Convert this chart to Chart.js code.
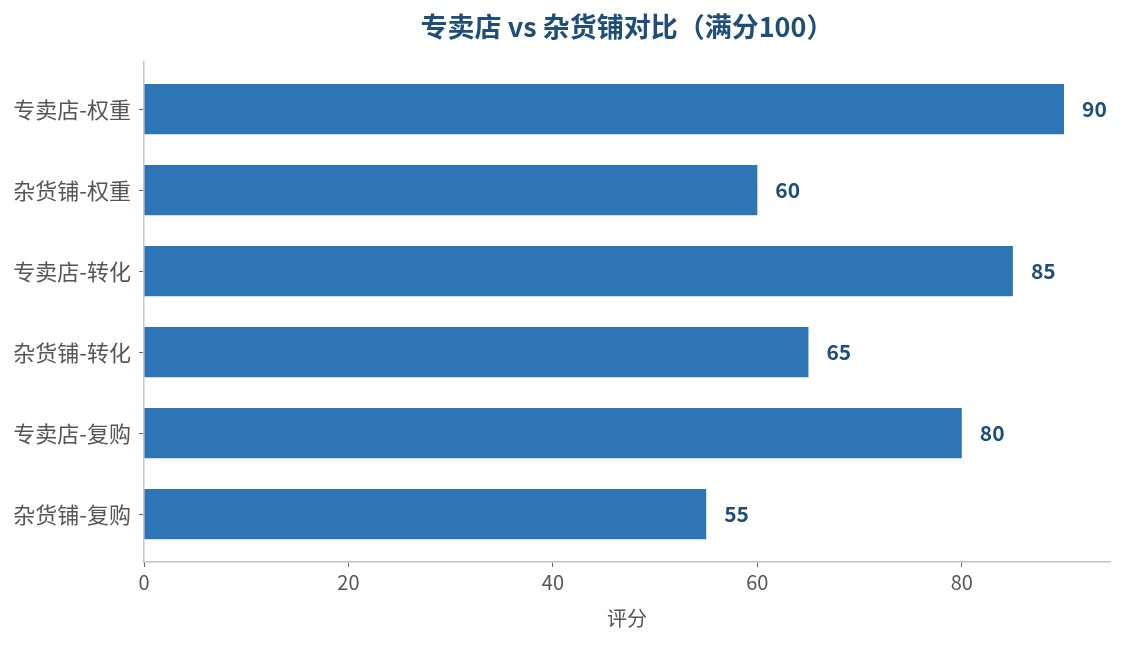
<!DOCTYPE html>
<html>
<head>
<meta charset="utf-8">
<script src="https://cdn.jsdelivr.net/npm/chart.js@4.4.1/dist/chart.umd.min.js"></script>
<style>
    html, body { margin: 0; padding: 0; background: #fff; }
    #wrap { width: 1124px; height: 645px; }
</style>
</head>
<body>
<div id="wrap"><canvas id="scoreChart"></canvas></div>
<script>
// chart values
const categories = ['专卖店-权重', '杂货铺-权重', '专卖店-转化', '杂货铺-转化', '专卖店-复购', '杂货铺-复购'];
const scores = [90, 60, 85, 65, 80, 55];
const xTickValues = [0, 20, 40, 60, 80];

const FONT = "'Noto Sans CJK SC', 'Noto Sans', sans-serif";

// draw the score next to the end of each bar
const barValueLabels = {
    id: 'barValueLabels',
    afterDatasetsDraw(chart) {
        const ctx = chart.ctx;
        const meta = chart.getDatasetMeta(0);
        ctx.save();
        ctx.font = 'bold 21px ' + FONT;
        ctx.fillStyle = '#1f4e79';
        ctx.textAlign = 'left';
        ctx.textBaseline = 'middle';
        meta.data.forEach((bar, i) => {
            ctx.fillText(String(scores[i]), bar.x + 18, bar.y);
        });
        ctx.restore();
    }
};

const ctx = document.getElementById('scoreChart').getContext('2d');

new Chart(ctx, {
    type: 'bar',
    data: {
        datasets: [{
            label: '评分',
            data: scores.map((v, i) => ({ x: v, y: i })),
            backgroundColor: '#2e75b6',
            borderWidth: 0,
            categoryPercentage: 1.0,
            barPercentage: 0.62
        }]
    },
    options: {
        indexAxis: 'y',
        responsive: true,
        maintainAspectRatio: false,
        animation: false,
        layout: {
            padding: { left: 0, right: 14, top: 0, bottom: 0 }
        },
        scales: {
            x: {
                type: 'linear',
                min: 0,
                max: 94.5,
                afterBuildTicks: (axis) => {
                    axis.ticks = xTickValues.map(v => ({ value: v }));
                },
                afterFit: (axis) => { axis.height = 83; },
                grid: {
                    display: true,
                    drawOnChartArea: false,
                    drawTicks: true,
                    tickLength: 5,
                    tickColor: '#666'
                },
                border: { color: '#c4c4c4', width: 1.5 },
                ticks: {
                    padding: 3,
                    color: '#555',
                    font: { size: 20, family: FONT }
                },
                title: {
                    display: true,
                    text: '评分',
                    color: '#555',
                    font: { size: 20, family: FONT },
                    padding: { top: 0, bottom: 15 }
                }
            },
            y: {
                type: 'linear',
                min: -0.59,
                max: 5.59,
                reverse: true,
                offset: false,
                afterBuildTicks: (axis) => {
                    axis.ticks = categories.map((c, i) => ({ value: i }));
                },
                afterFit: (axis) => { axis.width = 144; },
                grid: {
                    display: true,
                    offset: false,
                    drawOnChartArea: false,
                    drawTicks: true,
                    tickLength: 5,
                    tickColor: '#666'
                },
                border: { color: '#c4c4c4', width: 1.5 },
                ticks: {
                    autoSkip: false,
                    padding: 8,
                    color: '#555',
                    font: { size: 22, family: FONT },
                    callback: (value) => categories[value]
                }
            }
        },
        plugins: {
            legend: { display: false },
            tooltip: { enabled: false },
            title: {
                display: true,
                fullSize: false,
                text: '专卖店 vs 杂货铺对比（满分100）',
                color: '#1f4e79',
                font: { size: 27, weight: 'bold', family: FONT },
                padding: { top: 11, bottom: 18 }
            }
        }
    },
    plugins: [barValueLabels]
});
</script>
</body>
</html>
